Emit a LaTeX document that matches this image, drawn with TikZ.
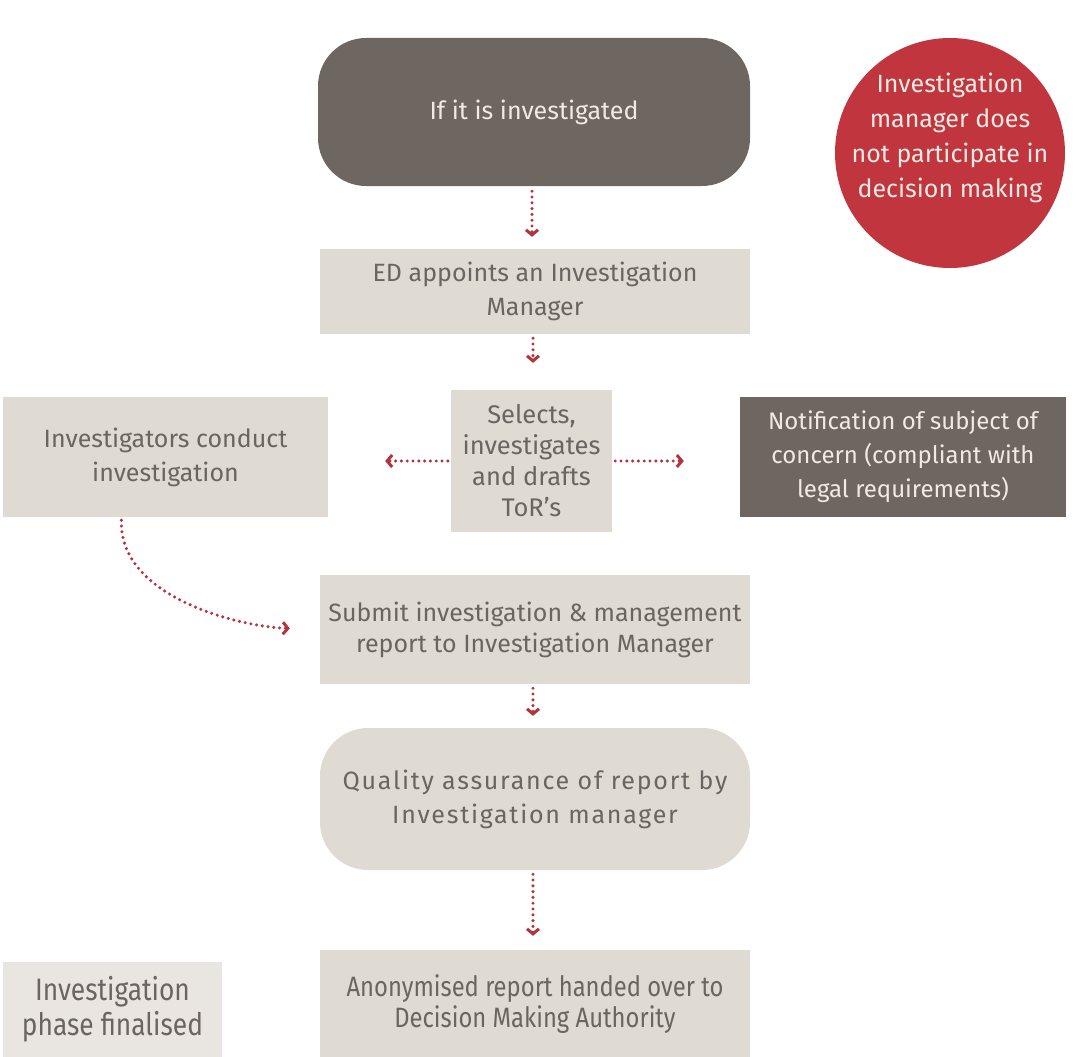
\documentclass[tikz,border=0pt]{standalone}
\usepackage{fontspec}
\setmainfont{Fira Sans}
\newfontfamily\narrowfont[FakeStretch=0.85]{Fira Sans}
\usetikzlibrary{arrows.meta}

\definecolor{boxgray}{HTML}{DFDAD2}
\definecolor{boxdark}{HTML}{6E6660}
\definecolor{boxpale}{HTML}{E9E6E1}
\definecolor{circlered}{HTML}{C1353E}
\definecolor{arrowred}{HTML}{B3343D}
\definecolor{textgray}{HTML}{6B6460}
\definecolor{textlight}{HTML}{F0EAE3}

\begin{document}
\begin{tikzpicture}[
    x=1pt, y=-1pt,
    font=\fontsize{25}{34}\selectfont,
    box/.style={fill=boxgray, text=textgray, align=center, inner sep=0pt},
    darkbox/.style={box, fill=boxdark, text=textlight},
    flow/.style={arrowred, line width=3.4pt, line cap=round, dash pattern=on 0pt off 5.8pt,
                 -{Straight Barb[length=5pt, width=12pt, line width=3pt]}}
]
\useasboundingbox (0,0) rectangle (1092,1057);

% --- OBEN ---
\node[darkbox, rounded corners=48pt, minimum width=432pt, minimum height=148pt] (start) at (534,112) {If it is investigated};
\node[circle, fill=circlered, minimum size=230pt, inner sep=0pt] (note) at (950,153) {};
\node[text=textlight, align=center, font=\fontsize{25}{35}\selectfont] (notetext) at (950,138)
    {Investigation\\manager does\\not participate in\\decision making};

\node[box, minimum width=430pt, minimum height=85pt] (appoint) at (535,291.5) {ED appoints an Investigation\\Manager};

% --- MITTE ---
\node[box, minimum width=161pt, minimum height=142pt, font=\fontsize{25.5}{31}\selectfont] (select) at (531.5,461)
    {Selects,\\investigates\\and drafts\\ToR’s};
\node[box, minimum width=325pt, minimum height=120pt] (conduct) at (165.5,457) {Investigators conduct\\investigation};
\node[darkbox, minimum width=326pt, minimum height=120pt, font=\fontsize{24}{34}\selectfont] (notify) at (903,457)
    {Notification of subject of\\concern (compliant with\\legal requirements)};

\node[box, minimum width=430pt, minimum height=109pt, font=\fontsize{25}{31}\selectfont] (submit) at (535,629.5)
    {Submit investigation \& management\\report to Investigation Manager};
\node[box, rounded corners=48pt, minimum width=430pt, minimum height=142pt, font=\fontsize{25}{34}\addfontfeature{LetterSpace=7}\selectfont] (quality) at (535,799)
    {Quality assurance of report by\\Investigation manager};

% --- UNTEN ---
\node[box, minimum width=430pt, minimum height=108pt, font=\narrowfont\fontsize{28}{31}\selectfont] (handover) at (535,1004)
    {Anonymised report handed over to\\Decision Making Authority};
\node[box, fill=boxpale, minimum width=219pt, minimum height=95pt, font=\narrowfont\fontsize{31}{35}\selectfont] (final) at (112.5,1009.5)
    {Investigation\\phase finalised};

% --- PFEILE ---
\draw[flow, shorten <=5pt, shorten >=12pt] ([xshift=-2pt]start.south) -- ([xshift=-2pt]start.south |- appoint.north);
\draw[flow, shorten <=4pt, shorten >=27pt] ([xshift=-2pt]appoint.south) -- ([xshift=-2pt]appoint.south |- select.north);
\draw[flow, shorten <=3pt, shorten >=57pt] (select.west) -- (select.west -| conduct.east);
\draw[flow, shorten <=3pt, shorten >=56pt] (select.east) -- (select.east -| notify.west);
\draw[flow, shorten <=3pt, shorten >=30pt] ([xshift=-44pt]conduct.south) to[out=-92, in=178, looseness=0.9] (submit.west);
\draw[flow, shorten <=4pt, shorten >=12pt] ([xshift=-2pt]submit.south) -- ([xshift=-2pt]submit.south |- quality.north);
\draw[flow, shorten <=4pt, shorten >=14pt] ([xshift=-2pt]quality.south) -- ([xshift=-2pt]quality.south |- handover.north);

\end{tikzpicture}
\end{document}
